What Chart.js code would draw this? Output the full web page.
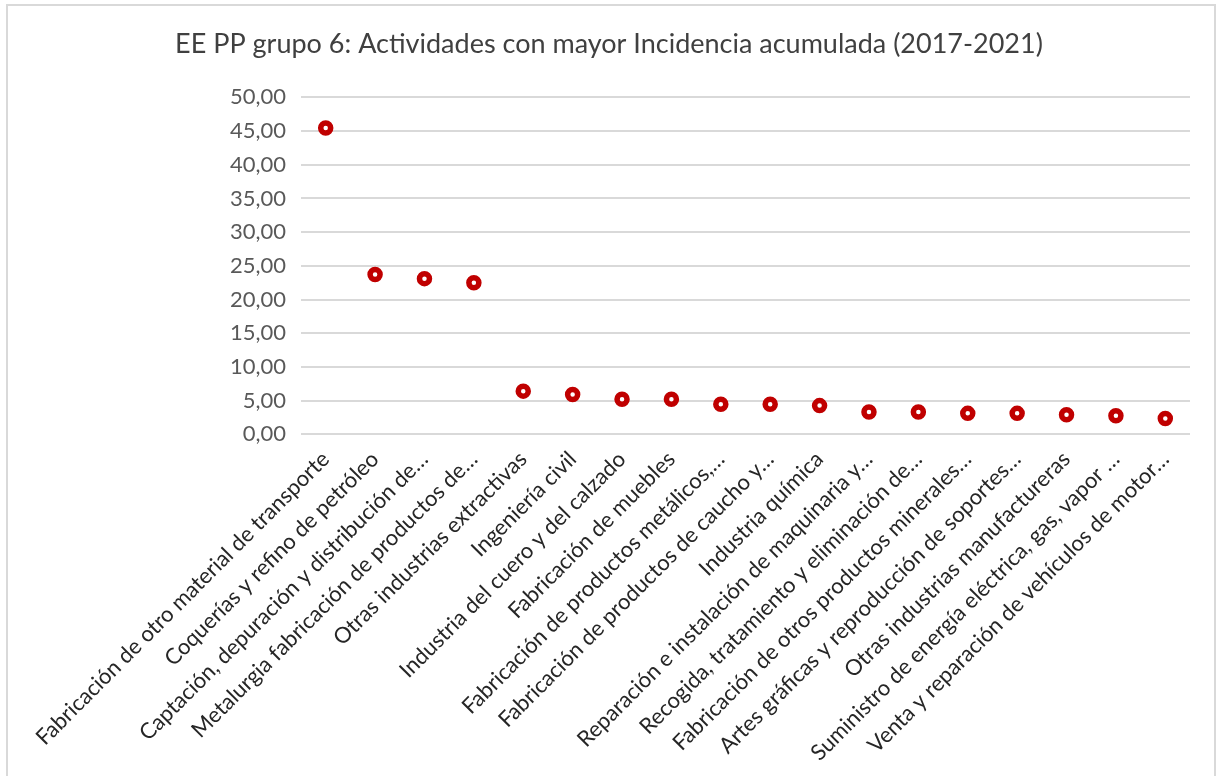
<!DOCTYPE html>
<html lang="es">
<head>
<meta charset="utf-8">
<title>EE PP grupo 6</title>
<script src="https://cdn.jsdelivr.net/npm/chart.js@4/dist/chart.umd.min.js"></script>
<style>
  html, body { margin: 0; padding: 0; background: #fff; overflow: hidden; }
  #frame {
    position: absolute;
    left: 6px; top: 4px;
    width: 1210px; height: 790px;
    border: 2px solid #d9d9d9;
    box-sizing: border-box;
  }
  #wrap { position: absolute; left: 0; top: 0; width: 1218px; height: 776px; }
</style>
</head>
<body>
<div id="frame"></div>
<div id="wrap"><canvas id="chart" width="1218" height="776"></canvas></div>
<script>
// Actividades y su incidencia acumulada 2017-2021
const actividades = [
    'Fabricación de otro material de transporte',
    'Coquerías y refino de petróleo',
    'Captación, depuración y distribución de…',
    'Metalurgia fabricación de productos de…',
    'Otras industrias extractivas',
    'Ingeniería civil',
    'Industria del cuero y del calzado',
    'Fabricación de muebles',
    'Fabricación de productos metálicos,…',
    'Fabricación de productos de caucho y…',
    'Industria química',
    'Reparación e instalación de maquinaria y…',
    'Recogida, tratamiento y eliminación de…',
    'Fabricación de otros productos minerales…',
    'Artes gráficas y reproducción de soportes…',
    'Otras industrias manufactureras',
    'Suministro de energía eléctrica, gas, vapor …',
    'Venta y reparación de vehículos de motor…'
];
const incidencia = [45.45, 23.7, 23.1, 22.5, 6.4, 5.9, 5.2, 5.2, 4.45, 4.45, 4.25, 3.3, 3.3, 3.1, 3.1, 2.9, 2.75, 2.35];
const ejeY = { min: 0, max: 50, paso: 5 };

const fuente = 'Lato, "Noto Sans", sans-serif';
const colores = {
    marca: '#C00000',
    rejilla: '#d9d9d9',
    texto: '#595959',
    titulo: '#404040'
};

const ctx = document.getElementById('chart').getContext('2d');
new Chart(ctx, {
    type: 'line',
    data: {
        labels: actividades,
        datasets: [{
            label: 'Incidencia acumulada',
            data: incidencia,
            showLine: false,
            pointStyle: 'circle',
            pointRadius: 5,
            pointBorderWidth: 5.5,
            pointBorderColor: colores.marca,
            pointBackgroundColor: '#ffffff'
        }]
    },
    options: {
        responsive: false,
        animation: false,
        layout: {
            padding: { left: 28, right: 28, top: 18, bottom: 6 }
        },
        plugins: {
            legend: { display: false },
            tooltip: { enabled: false },
            title: {
                display: true,
                text: 'EE PP grupo 6: Actividades con mayor Incidencia acumulada (2017-2021)',
                color: colores.titulo,
                font: { family: fuente, size: 27, weight: 'normal' },
                padding: { top: 10, bottom: 37 }
            }
        },
        scales: {
            x: {
                offset: true,
                grid: { display: false },
                border: { display: false },
                ticks: {
                    autoSkip: false,
                    minRotation: 45,
                    maxRotation: 45,
                    padding: 4,
                    color: '#262626',
                    font: { family: fuente, size: 22 }
                }
            },
            y: {
                min: ejeY.min,
                max: ejeY.max,
                // ancho fijo para dejar sitio a la primera etiqueta inclinada
                afterFit: axis => { axis.width = 273; },
                grid: {
                    color: colores.rejilla,
                    lineWidth: 2,
                    drawTicks: false
                },
                border: { display: false },
                ticks: {
                    stepSize: ejeY.paso,
                    padding: 15,
                    color: colores.texto,
                    font: { family: fuente, size: 22 },
                    callback: v => v.toFixed(2).replace('.', ',')
                }
            }
        }
    }
});
</script>
</body>
</html>
